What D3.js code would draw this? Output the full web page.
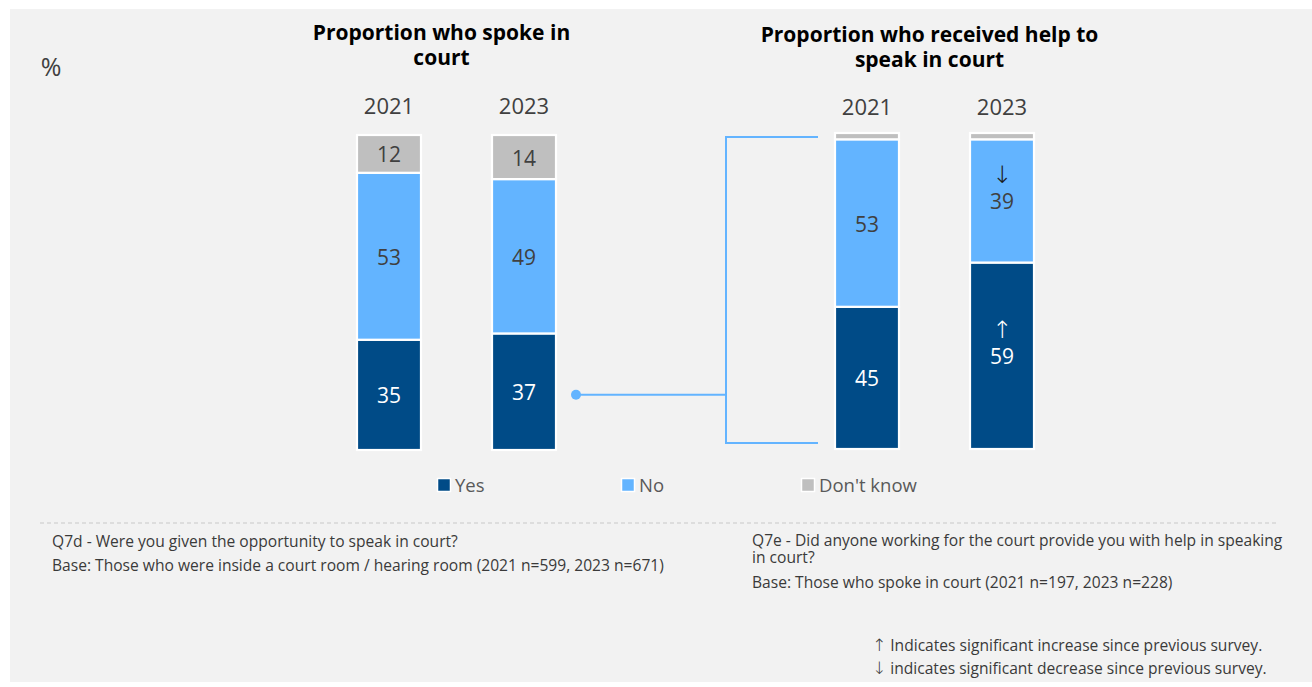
<!DOCTYPE html>
<html>
<head>
<meta charset="utf-8">
<script src="https://cdn.jsdelivr.net/npm/d3@7"></script>
<style>
  html, body { margin: 0; padding: 0; background: #ffffff; }
  svg { display: block; }
  text { font-family: "Open Sans", "Noto Sans", sans-serif; }
  .arrow { font-family: "DejaVu Sans", sans-serif; font-weight: 200; }
</style>
</head>
<body>
<svg id="chart" width="1312" height="687"></svg>
<script>
// ---- Data ----
const years = ["2021", "2023"];
const seriesNames = ["Yes", "No", "Don't know"];

// Proportion who spoke in court (Q7d)
const spokeYes = [35, 37];
const spokeNo = [53, 49];
const spokeDontKnow = [12, 14];

// Proportion who received help to speak in court (Q7e)
const helpYes = [45, 59];
const helpNo = [53, 39];
const helpDontKnow = [2, 2];

// Significance markers vs previous survey: "up", "down" or null
const helpYesSig = [null, "up"];
const helpNoSig = [null, "down"];

const colors = { "Yes": "#004b87", "No": "#63b4ff", "Don't know": "#bfbfbf" };
const linkColor = "#63b4ff";
const UP = "\u2191", DOWN = "\u2193";

const svg = d3.select("#chart");

// Panel background
svg.append("rect").attr("x", 10).attr("y", 9).attr("width", 1302).attr("height", 673)
  .attr("fill", "#f2f2f2");

// "%" unit marker
svg.append("text").attr("x", 51).attr("y", 76).attr("text-anchor", "middle")
  .attr("font-size", 25).attr("fill", "#404040").text("%");

function buildRows(yes, no, dk, yesSig, noSig) {
  return years.map((yr, i) => ({
    year: yr,
    "Yes": yes[i], "No": no[i], "Don't know": dk[i],
    sig: { "Yes": yesSig ? yesSig[i] : null, "No": noSig ? noSig[i] : null, "Don't know": null }
  }));
}

function drawPanel(opts) {
  const rows = buildRows(opts.yes, opts.no, opts.dk, opts.yesSig, opts.noSig);
  const stack = d3.stack().keys(seriesNames)(rows);

  const x = d3.scaleBand().domain(years).range(opts.xRange).paddingInner(0.526).paddingOuter(0);
  const y = d3.scaleLinear().domain([0, 100]).range(opts.yRange);

  const g = svg.append("g");

  // Title (two lines)
  const tx = (opts.xRange[0] + opts.xRange[1]) / 2 + opts.titleShift;
  const title = g.append("text").attr("text-anchor", "middle").attr("font-size", 21)
    .attr("font-weight", 700).attr("fill", "#000");
  opts.title.forEach((line, i) => {
    title.append("tspan").attr("x", tx).attr("y", opts.titleY + i * 25).text(line);
  });

  // Year labels
  g.selectAll("text.year").data(years).join("text").attr("class", "year")
    .attr("x", d => x(d) + x.bandwidth() / 2).attr("y", opts.yearY)
    .attr("text-anchor", "middle").attr("font-size", 22).attr("fill", "#404040")
    .text(d => d);

  // Stacked segments
  stack.forEach(layer => {
    const key = layer.key;
    g.selectAll(null).data(layer).join("rect")
      .attr("x", d => x(d.data.year))
      .attr("y", d => y(d[1]))
      .attr("width", x.bandwidth())
      .attr("height", d => y(d[0]) - y(d[1]))
      .attr("fill", colors[key])
      .attr("stroke", "#ffffff").attr("stroke-width", 2.2);

    layer.forEach(d => {
      const v = d[1] - d[0];
      if (v < 5) return;
      const cx = x(d.data.year) + x.bandwidth() / 2;
      const cy = (y(d[0]) + y(d[1])) / 2;
      const fill = key === "Yes" ? "#ffffff" : "#404040";
      g.append("text").attr("x", cx).attr("y", cy + 8.5).attr("text-anchor", "middle")
        .attr("font-size", 21).attr("fill", fill).text(v);
      const s = d.data.sig[key];
      if (s) {
        g.append("text").attr("class", "arrow").attr("x", cx).attr("y", cy - 18)
          .attr("text-anchor", "middle").attr("font-size", 24)
          .attr("fill", key === "Yes" ? "#ffffff" : "#1a1a1a")
          .text(s === "up" ? UP : DOWN);
      }
    });
  });
  return { x, y };
}

const left = drawPanel({
  yes: spokeYes, no: spokeNo, dk: spokeDontKnow,
  xRange: [357, 556], yRange: [450, 135],
  title: ["Proportion who spoke in", "court"], titleY: 40, titleShift: -15, yearY: 114
});

const right = drawPanel({
  yes: helpYes, no: helpNo, dk: helpDontKnow, yesSig: helpYesSig, noSig: helpNoSig,
  xRange: [835, 1034], yRange: [449, 133],
  title: ["Proportion who received help to", "speak in court"], titleY: 42, titleShift: -5, yearY: 115
});

// Connector from the 2023 "Yes" segment to the bracket round the right panel
const linkY = left.y(spokeYes[1] / 2) + 3;
const dotX = left.x("2023") + left.x.bandwidth() + 20;
const brX = 726, brEnd = 818;
const link = svg.append("g").attr("fill", "none").attr("stroke", linkColor).attr("stroke-width", 2);
link.append("path").attr("d", `M${dotX},${linkY}H${brX}`);
link.append("path").attr("d",
  `M${brEnd},${right.y(100) + 4}H${brX}V${right.y(0) - 6}H${brEnd}`);
svg.append("circle").attr("cx", dotX).attr("cy", linkY).attr("r", 5).attr("fill", linkColor);

// Legend
const legendX = [444, 628, 808];
const legend = svg.append("g");
seriesNames.forEach((name, i) => {
  const lg = legend.append("g").attr("transform", `translate(${legendX[i]},485)`);
  lg.append("rect").attr("x", -6.5).attr("y", -6.5).attr("width", 13).attr("height", 13)
    .attr("fill", colors[name]).attr("stroke", "#ffffff").attr("stroke-width", 1.5);
  lg.append("text").attr("x", 11).attr("y", 6.5).attr("font-size", 18.5)
    .attr("fill", "#595959").text(name);
});

// Divider
svg.append("line").attr("x1", 40).attr("x2", 1278).attr("y1", 523).attr("y2", 523)
  .attr("stroke", "#c8c8c8").attr("stroke-width", 1).attr("stroke-dasharray", "4,3");

// Footnotes
const notes = [
  { x: 52, y: 547, t: "Q7d - Were you given the opportunity to speak in court?" },
  { x: 52, y: 571, t: "Base: Those who were inside a court room / hearing room (2021 n=599, 2023 n=671)" },
  { x: 752, y: 546, t: "Q7e - Did anyone working for the court provide you with help in speaking" },
  { x: 752, y: 563, t: "in court?" },
  { x: 752, y: 588, t: "Base: Those who spoke in court (2021 n=197, 2023 n=228)" }
];
svg.selectAll("text.note").data(notes).join("text").attr("class", "note")
  .attr("x", d => d.x).attr("y", d => d.y).attr("font-size", 15.6)
  .attr("fill", "#3a3a3a").text(d => d.t);

// Significance key
const key = [
  { y: 651, a: UP, t: "Indicates significant increase since previous survey." },
  { y: 674, a: DOWN, t: "indicates significant decrease since previous survey." }
];
key.forEach(k => {
  const t = svg.append("text").attr("x", 872).attr("y", k.y).attr("font-size", 15.6)
    .attr("fill", "#3a3a3a");
  t.append("tspan").attr("class", "arrow").attr("font-size", 17).text(k.a);
  t.append("tspan").attr("dx", 4).text(k.t);
});
</script>
</body>
</html>
